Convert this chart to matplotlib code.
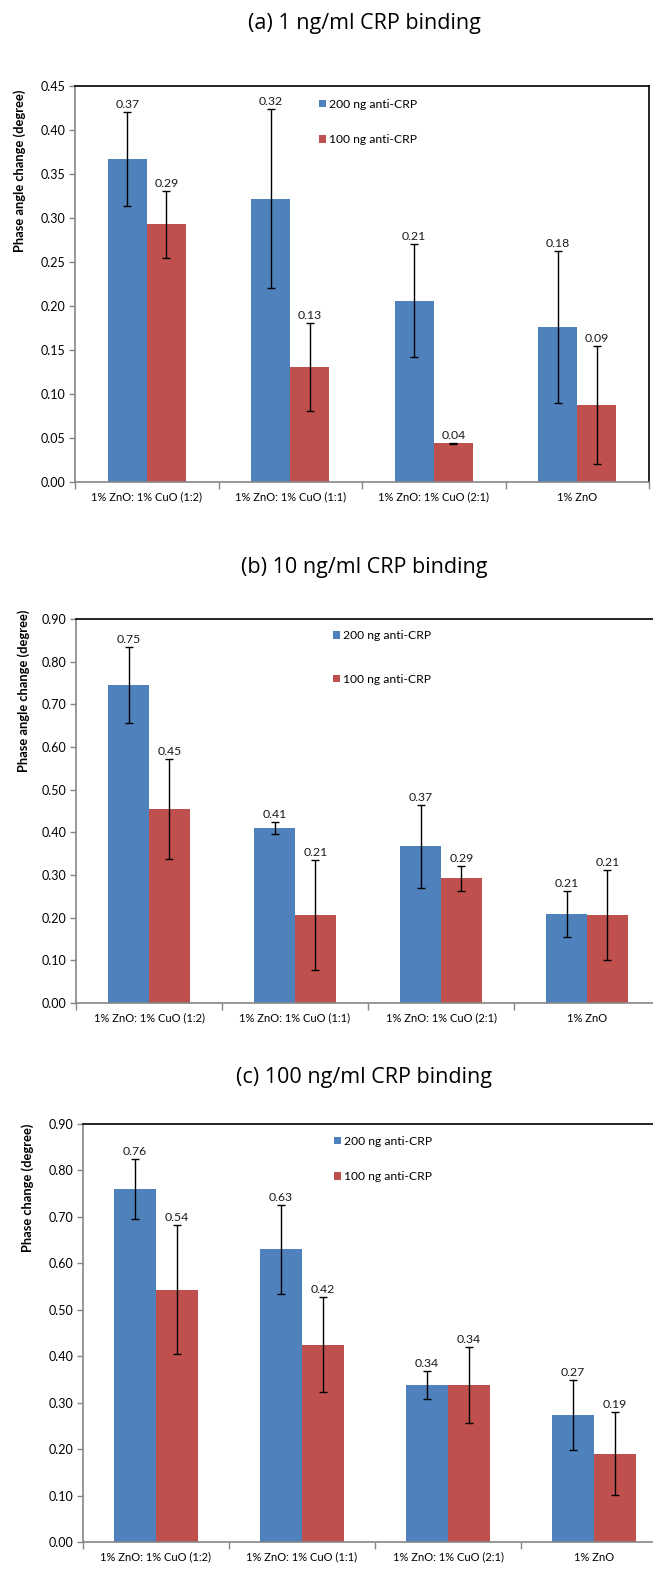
import matplotlib
matplotlib.use("Agg")
import matplotlib.pyplot as plt
import numpy as np
from matplotlib.patches import Patch

categories = ["1% ZnO: 1% CuO (1:2)", "1% ZnO: 1% CuO (1:1)",
              "1% ZnO: 1% CuO (2:1)", "1% ZnO"]
series_names = ["200 ng anti-CRP", "100 ng anti-CRP"]

titles = ["(a) 1 ng/ml CRP binding", "(b) 10 ng/ml CRP binding",
          "(c) 100 ng/ml CRP binding"]
ylabels = ["Phase angle change (degree)", "Phase angle change (degree)",
           "Phase change (degree)"]

# panel (a)
a_200 = [0.367, 0.322, 0.206, 0.176]
a_200_err = [0.053, 0.102, 0.064, 0.086]
a_100 = [0.293, 0.131, 0.044, 0.088]
a_100_err = [0.038, 0.050, 0.0005, 0.067]
a_yticks = [0.00, 0.05, 0.10, 0.15, 0.20, 0.25, 0.30, 0.35, 0.40, 0.45]

# panel (b)
b_200 = [0.746, 0.410, 0.367, 0.208]
b_200_err = [0.089, 0.014, 0.097, 0.054]
b_100 = [0.454, 0.206, 0.292, 0.206]
b_100_err = [0.117, 0.128, 0.030, 0.106]
b_yticks = [0.0, 0.1, 0.2, 0.3, 0.4, 0.5, 0.6, 0.7, 0.8, 0.9]

# panel (c)
c_200 = [0.760, 0.630, 0.338, 0.274]
c_200_err = [0.064, 0.096, 0.030, 0.075]
c_100 = [0.543, 0.425, 0.338, 0.190]
c_100_err = [0.139, 0.103, 0.081, 0.089]
c_yticks = [0.0, 0.1, 0.2, 0.3, 0.4, 0.5, 0.6, 0.7, 0.8, 0.9]

BLUE = "#4F81BD"
RED = "#C0504D"
GREY = "#868686"

W, H = 653, 1569
fig = plt.figure(figsize=(W / 100, H / 100), dpi=100)

def px_rect(l, r, t, b):
    return [l / W, 1 - b / H, (r - l) / W, (b - t) / H]

panels = [
    dict(rect=px_rect(75, 649, 86, 482), s1=a_200, e1=a_200_err, s2=a_100, e2=a_100_err,
         yt=a_yticks, bw=0.272, title_y=24, leg=(0.425, 0.967), lsp=2.0,
         ylab=(20, 171)),
    dict(rect=px_rect(76, 660, 619, 1003), s1=b_200, e1=b_200_err, s2=b_100, e2=b_100_err,
         yt=b_yticks, bw=0.28, title_y=567, leg=(0.440, 0.971), lsp=2.7,
         ylab=(24, 691)),
    dict(rect=px_rect(83, 667, 1124, 1542), s1=c_200, e1=c_200_err, s2=c_100, e2=c_100_err,
         yt=c_yticks, bw=0.288, title_y=1078, leg=(0.430, 0.971), lsp=2.0,
         ylab=(28, 1188)),
]

x = np.arange(len(categories))
for i, p in enumerate(panels):
    ax = fig.add_axes(p["rect"])
    bw = p["bw"]
    ax.bar(x - bw / 2, p["s1"], bw, color=BLUE, label=series_names[0], zorder=2)
    ax.bar(x + bw / 2, p["s2"], bw, color=RED, label=series_names[1], zorder=2)
    ax.errorbar(x - bw / 2, p["s1"], yerr=p["e1"], fmt="none", ecolor="black",
                elinewidth=1, capsize=2.8, capthick=1, zorder=3)
    ax.errorbar(x + bw / 2, p["s2"], yerr=p["e2"], fmt="none", ecolor="black",
                elinewidth=1, capsize=2.8, capthick=1, zorder=3)
    for xs, vals, errs in [(x - bw / 2, p["s1"], p["e1"]), (x + bw / 2, p["s2"], p["e2"])]:
        for xx, v, e in zip(xs, vals, errs):
            ax.annotate("%.2f" % v, (xx, v + e), xytext=(0, 1.5), textcoords="offset points",
                        ha="center", va="bottom", fontsize=8.8, family="Lato", color="#1a1a1a")
    yt = p["yt"]
    ax.set_ylim(yt[0], yt[-1])
    ax.set_yticks(yt)
    ax.set_yticklabels(["%.2f" % t for t in yt], fontsize=9, family="Lato")
    ax.set_xlim(-0.5, len(categories) - 0.5)
    ax.set_xticks(x)
    ax.set_xticklabels(categories, fontsize=8, family="Lato")
    ax.set_xticks(np.arange(len(categories) + 1) - 0.5, minor=True)
    ax.tick_params(axis="x", which="major", length=0, pad=7)
    ax.tick_params(axis="x", which="minor", length=5, color=GREY, width=1)
    ax.tick_params(axis="y", length=4, color=GREY, width=1, pad=3)
    for side in ["left", "bottom"]:
        ax.spines[side].set_color(GREY)
        ax.spines[side].set_linewidth(1.2)
    for side in ["top", "right"]:
        ax.spines[side].set_color("black")
        ax.spines[side].set_linewidth(1.2)
    handles = [Patch(facecolor=BLUE), Patch(facecolor=RED)]
    ax.legend(handles, series_names, loc="upper left", bbox_to_anchor=p["leg"],
              frameon=False, prop={"family": "Lato", "size": 8.7},
              handlelength=0.55, handleheight=0.55, handletextpad=0.3,
              labelspacing=p["lsp"], borderpad=0, borderaxespad=0)
    fig.text(364 / W, 1 - p["title_y"] / H, titles[i], ha="center", va="center",
             fontsize=15.5, family="Open Sans")
    lx, ly = p["ylab"]
    fig.text(lx / W, 1 - ly / H, ylabels[i], rotation=90, ha="center", va="center",
             fontsize=9.3, family="Lato", fontweight="bold")

fig.savefig("out.png", dpi=100)
